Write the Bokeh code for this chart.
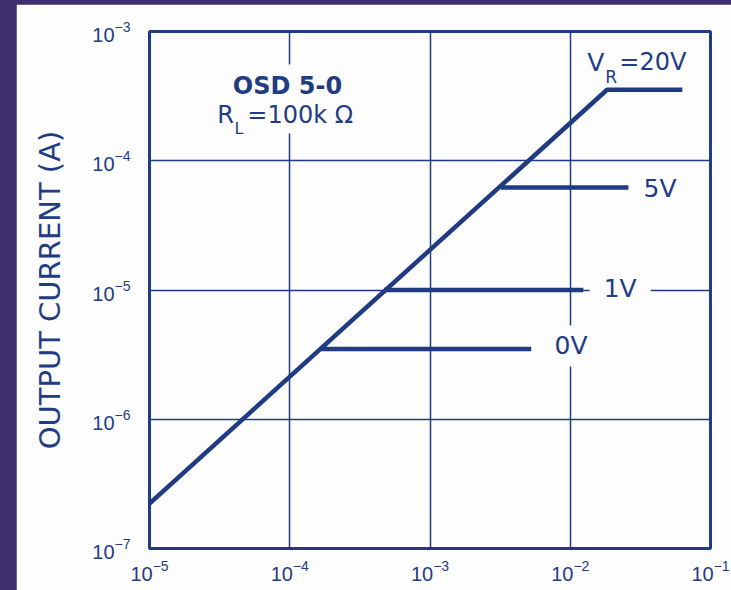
from bokeh.plotting import figure
from bokeh.models import Label, FixedTicker, GlobalInlineStyleSheet, Spacer
from bokeh.layouts import row, column
from bokeh.embed import file_html
from bokeh.resources import INLINE

# ---- data ----
x_ticks = [1e-5, 1e-4, 1e-3, 1e-2, 1e-1]
y_ticks = [1e-7, 1e-6, 1e-5, 1e-4, 1e-3]

vr20_power = [1e-5, 1.83e-2, 6.3e-2]
vr20_current = [2.23e-7, 3.54e-4, 3.54e-4]
v5_power = [3.2e-3, 2.6e-2]
v5_current = [6.2e-5, 6.2e-5]
v1_power = [4.7e-4, 1.24e-2]
v1_current = [1.0e-5, 1.0e-5]
v0_power = [1.66e-4, 5.27e-3]
v0_current = [3.5e-6, 3.5e-6]

NAVY = "#1f3b82"
TEXT = "#223c84"
PANEL = "#fdfdfd"
PURPLE = "#3f2f6e"

p = figure(width=715, height=586, x_axis_type="log", y_axis_type="log",
           x_range=(1e-5, 1e-1), y_range=(1e-7, 1e-3),
           output_backend="svg", toolbar_location=None,
           min_border_left=133, min_border_right=21,
           min_border_top=27, min_border_bottom=42,
           background_fill_color=PANEL, border_fill_color=PANEL,
           outline_line_color=NAVY, outline_line_width=3)

xt = FixedTicker(ticks=x_ticks)
yt = FixedTicker(ticks=y_ticks)
p.xaxis.ticker = xt
p.yaxis.ticker = yt
p.xgrid.ticker = xt
p.ygrid.ticker = yt

for ax in (p.xaxis[0], p.yaxis[0]):
    ax.axis_line_color = None
    ax.major_tick_line_color = None
    ax.minor_tick_line_color = None
    ax.major_label_text_font = "Liberation Sans"
    ax.major_label_text_font_size = "20px"
    ax.major_label_text_color = TEXT
p.xaxis.major_label_standoff = 5
p.yaxis.major_label_standoff = 13

p.yaxis.axis_label = "OUTPUT CURRENT (A)"
p.yaxis.axis_label_text_font = "DejaVu Sans"
p.yaxis.axis_label_text_font_size = "29px"
p.yaxis.axis_label_text_font_style = "normal"
p.yaxis.axis_label_text_color = TEXT
p.yaxis.axis_label_standoff = 22

for g in (p.xgrid[0], p.ygrid[0]):
    g.grid_line_color = NAVY
    g.grid_line_width = 1.5
    g.grid_line_alpha = 1.0

for xs, ys in ((vr20_power, vr20_current), (v5_power, v5_current),
               (v1_power, v1_current), (v0_power, v0_current)):
    p.line(xs, ys, line_color=NAVY, line_width=4.5, line_join="round")


def lab(x, y, text, size, bold=False, bg=None, pad=0, align="left"):
    l = Label(x=x, y=y, text=text, text_font="DejaVu Sans",
              text_font_size="%dpx" % size, text_color=TEXT,
              text_font_style="bold" if bold else "normal",
              text_align=align, text_baseline="middle")
    if bg is not None:
        l.background_fill_color = bg
        l.padding = pad
        if align == "left":
            l.x_offset = -pad
    p.add_layout(l)


lab(9.64e-5, 3.82e-4, "OSD 5-0", 24, bold=True, bg=PANEL, pad=7, align="center")
lab(4.98e-5, 2.24e-4, "=100k \u03a9", 24, bg=PANEL, pad=4)
lab(3.04e-5, 2.24e-4, "R", 24)
lab(4.04e-5, 1.78e-4, "L", 16)

lab(1.32e-2, 5.79e-4, "V", 25)
lab(1.78e-2, 4.43e-4, "R", 17)
lab(2.24e-2, 5.79e-4, "=20V", 24)

lab(3.33e-2, 6.1e-5, "5V", 25)
lab(1.73e-2, 1.035e-5, "1V", 25, bg=PANEL, pad=14)
lab(7.73e-3, 3.69e-6, "0V", 25, bg=PANEL, pad=6)

layout = column(Spacer(height=4, width=731),
                row(Spacer(width=16, height=586), p))
layout.stylesheets = [GlobalInlineStyleSheet(css="body{background:%s;}" % PURPLE)]

open("out.html", "w").write(file_html(layout, INLINE))
